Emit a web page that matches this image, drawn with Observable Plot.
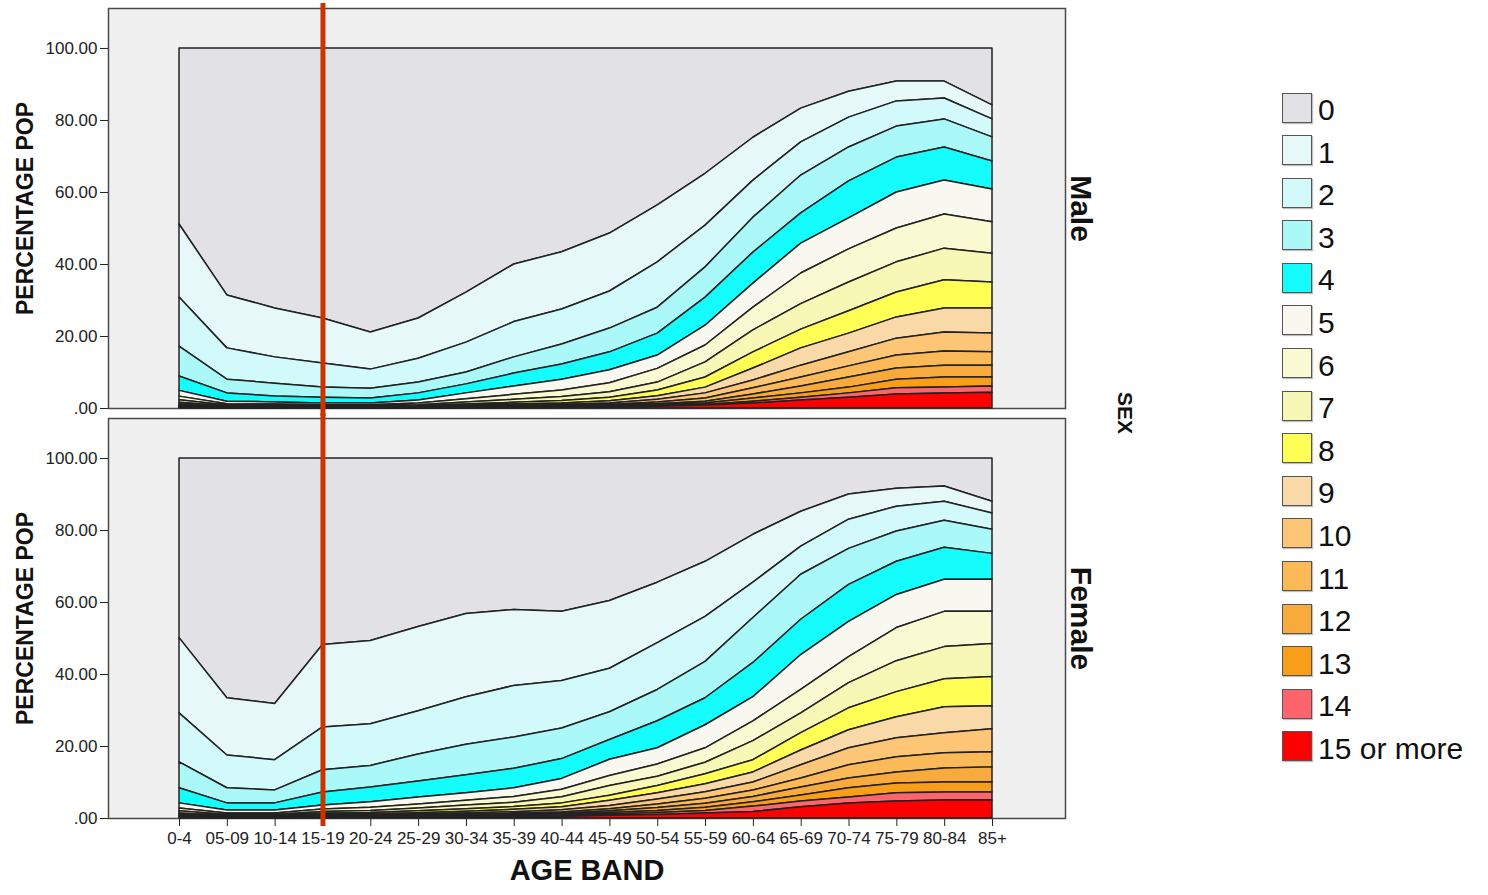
<!DOCTYPE html>
<html>
<head>
<meta charset="utf-8">
<script src="https://cdn.jsdelivr.net/npm/d3@7"></script>
<script src="https://cdn.jsdelivr.net/npm/@observablehq/plot@0.6"></script>
<style>
  body { margin: 0; background: #fff; font-family: "Liberation Sans", Arial, sans-serif; }
  #wrap { position: relative; width: 1488px; height: 895px; overflow: hidden; }
  #chart { position: absolute; left: 0; top: 0; }
  #sex { position: absolute; left: 1125px; top: 413px; transform: translate(-50%, -50%) rotate(90deg);
         font-weight: bold; font-size: 21px; color: #111; white-space: nowrap; }
  #legend { position: absolute; left: 1282px; top: 92px; }
  .row { display: flex; align-items: center; height: 31px; margin-bottom: 11.6px; }
  .sw { width: 28px; height: 28px; border: 1.5px solid #555; box-shadow: 1px 1px 1px rgba(0,0,0,0.25); }
  .lb { font-size: 30px; margin-left: 6px; color: #111; line-height: 31px; position: relative; top: 2px; }
</style>
</head>
<body>
<div id="wrap">
  <div id="chart"></div>
  <div id="sex">SEX</div>
  <div id="legend"></div>
</div>
<script>
// ---- data ----
const ages = ["0-4","05-09","10-14","15-19","20-24","25-29","30-34","35-39","40-44","45-49",
              "50-54","55-59","60-64","65-69","70-74","75-79","80-84","85+"];
const sexes = ["Male", "Female"];
const cats = ["0","1","2","3","4","5","6","7","8","9","10","11","12","13","14","15 or more"];
const catColors = ["#e2e1e6","#e6f8f8","#d2fafa","#aaf8f8","#14fcfc","#f8f8f0","#fafad2","#f7f7b6",
                   "#ffff55","#fad9a8","#fcc676","#fbb958","#f9aa3c","#f99e18","#fe646c","#fe0000"];
const yTicks = [0, 20, 40, 60, 80, 100];
const markerAge = "15-19";

// percentage of population with at least k conditions (k = 1 .. 15), by age band
const maleAtLeast = [
  [51.1, 31.4, 27.8, 25.0, 21.1, 25.0, 32.2, 40.0, 43.4, 48.6, 56.4, 65.2, 75.2, 83.3, 88.0, 90.8, 90.8, 84.2],
  [30.8, 16.7, 14.2, 12.5, 10.8, 13.8, 18.3, 24.0, 27.5, 32.5, 40.6, 50.8, 63.3, 73.9, 80.8, 85.3, 86.1, 80.3],
  [17.2, 8.0, 6.9, 5.8, 5.5, 7.2, 10.0, 14.2, 17.8, 22.2, 28.0, 39.2, 53.0, 64.7, 72.5, 78.3, 80.3, 75.3],
  [8.9, 4.2, 3.3, 3.0, 2.8, 4.2, 6.7, 9.7, 12.2, 15.6, 20.8, 30.8, 43.3, 54.2, 63.1, 69.7, 72.5, 68.6],
  [4.9, 1.9, 1.7, 1.4, 1.4, 2.2, 4.2, 6.1, 8.0, 10.6, 14.7, 23.0, 34.7, 45.8, 52.8, 60.0, 63.3, 60.8],
  [3.3, 1.2, 1.1, 0.9, 0.9, 1.4, 2.6, 3.8, 5.0, 7.0, 11.0, 17.5, 28.0, 37.5, 44.2, 50.0, 53.9, 51.7],
  [2.3, 0.8, 0.75, 0.6, 0.6, 0.9, 1.7, 2.4, 3.2, 4.5, 7.2, 12.8, 21.7, 29.0, 35.0, 40.6, 44.4, 43.0],
  [1.6, 0.55, 0.5, 0.42, 0.42, 0.6, 1.1, 1.6, 2.1, 3.0, 5.0, 8.6, 15.6, 21.9, 27.0, 32.2, 35.6, 35.0],
  [1.1, 0.4, 0.35, 0.3, 0.3, 0.45, 0.8, 1.1, 1.4, 2.0, 3.4, 5.8, 11.1, 16.7, 20.8, 25.3, 27.8, 27.8],
  [0.8, 0.28, 0.25, 0.22, 0.22, 0.3, 0.55, 0.8, 1.0, 1.4, 2.4, 4.2, 7.8, 11.9, 15.6, 19.4, 21.1, 20.8],
  [0.55, 0.2, 0.18, 0.16, 0.16, 0.22, 0.4, 0.55, 0.7, 1.0, 1.7, 2.8, 5.6, 8.6, 11.7, 14.7, 15.8, 15.6],
  [0.4, 0.15, 0.13, 0.12, 0.12, 0.16, 0.3, 0.4, 0.5, 0.7, 1.2, 1.9, 3.9, 6.1, 8.6, 11.1, 11.9, 11.9],
  [0.3, 0.1, 0.1, 0.09, 0.09, 0.12, 0.2, 0.3, 0.35, 0.5, 0.9, 1.4, 2.8, 4.2, 5.8, 8.0, 8.6, 8.6],
  [0.2, 0.08, 0.07, 0.06, 0.06, 0.08, 0.15, 0.2, 0.25, 0.35, 0.6, 1.0, 1.9, 3.0, 4.2, 5.6, 5.8, 6.1],
  [0.14, 0.05, 0.05, 0.04, 0.04, 0.06, 0.1, 0.15, 0.2, 0.3, 0.5, 0.8, 1.4, 2.2, 3.0, 3.9, 4.2, 4.4]
];
const femaleAtLeast = [
  [50.1, 33.4, 31.8, 48.2, 49.3, 53.2, 56.8, 57.9, 57.4, 60.4, 65.5, 71.3, 78.8, 85.2, 90.0, 91.6, 92.2, 88.0],
  [29.2, 17.5, 16.2, 25.3, 26.2, 29.8, 33.7, 36.8, 38.2, 41.6, 48.7, 56.0, 65.5, 75.5, 83.0, 86.6, 88.0, 84.7],
  [15.6, 8.4, 7.8, 13.4, 14.6, 17.8, 20.5, 22.5, 25.0, 29.5, 35.7, 43.5, 55.7, 67.7, 74.9, 79.7, 82.7, 80.2],
  [8.4, 4.2, 4.2, 7.2, 8.6, 10.3, 12.0, 13.8, 16.5, 21.8, 27.0, 33.4, 43.2, 55.2, 64.9, 71.3, 75.2, 73.5],
  [4.2, 2.2, 2.2, 3.6, 4.5, 5.8, 7.0, 8.4, 11.0, 16.3, 19.5, 25.9, 33.7, 45.4, 54.6, 62.1, 66.3, 66.3],
  [2.8, 1.4, 1.4, 2.5, 3.0, 3.9, 4.9, 6.0, 8.0, 11.8, 15.0, 19.5, 27.0, 35.7, 44.8, 52.9, 57.4, 57.4],
  [2.0, 1.0, 1.0, 1.8, 2.1, 2.8, 3.6, 4.4, 5.9, 9.0, 11.6, 15.5, 21.5, 29.2, 37.6, 43.7, 47.6, 48.5],
  [1.4, 0.7, 0.7, 1.3, 1.5, 2.0, 2.6, 3.2, 4.2, 6.3, 9.0, 12.3, 16.2, 23.7, 30.6, 35.1, 38.7, 39.3],
  [1.0, 0.5, 0.5, 0.9, 1.1, 1.45, 1.9, 2.4, 3.1, 4.9, 7.0, 9.5, 12.8, 18.9, 24.5, 28.1, 30.9, 31.2],
  [0.7, 0.35, 0.35, 0.65, 0.8, 1.05, 1.4, 1.75, 2.3, 3.5, 5.3, 7.3, 10.0, 14.8, 19.5, 22.3, 23.7, 24.8],
  [0.5, 0.25, 0.25, 0.45, 0.58, 0.75, 1.0, 1.3, 1.7, 2.6, 3.9, 5.5, 7.8, 11.1, 14.8, 17.0, 18.1, 18.4],
  [0.36, 0.18, 0.18, 0.33, 0.42, 0.55, 0.72, 0.95, 1.25, 2.0, 2.9, 4.1, 6.0, 8.6, 11.1, 12.8, 13.9, 14.2],
  [0.26, 0.13, 0.13, 0.24, 0.3, 0.4, 0.52, 0.7, 0.9, 1.5, 2.1, 3.0, 4.5, 6.4, 8.4, 9.7, 10.0, 10.0],
  [0.18, 0.09, 0.09, 0.17, 0.21, 0.28, 0.37, 0.5, 0.65, 1.1, 1.5, 2.1, 3.3, 4.7, 5.8, 7.0, 7.2, 7.2],
  [0.12, 0.06, 0.06, 0.11, 0.14, 0.19, 0.25, 0.34, 0.45, 0.75, 1.0, 1.4, 1.8, 3.1, 4.2, 4.7, 5.0, 5.0]
];

// ---- build band rows (each category spans from the next "at least" level to its own) ----
function bands(sex, cum) {
  const out = [];
  cats.forEach((c, k) => {
    ages.forEach((a, i) => {
      const hi = k === 0 ? 100 : cum[k - 1][i];
      const lo = k === cats.length - 1 ? 0 : cum[k][i];
      out.push({sex, age: a, cat: c, lo, hi});
    });
  });
  return out;
}
const rows = [...bands("Male", maleAtLeast), ...bands("Female", femaleAtLeast)];

const chart = Plot.plot({
  width: 1160,
  height: 895,
  marginLeft: 108,
  marginRight: 95,
  marginTop: 8,
  marginBottom: 77,
  style: {fontFamily: "'Liberation Sans', Arial, sans-serif", fontSize: "17px", color: "#222", background: "transparent"},
  x: {type: "point", domain: ages, insetLeft: 71, insetRight: 73, padding: 0, round: false, label: null, tickSize: 8, tickPadding: 5},
  y: {domain: [0, 111.1], ticks: yTicks, tickFormat: d => d === 0 ? ".00" : d.toFixed(2), tickSize: 8, tickPadding: 3, label: null},
  fy: {domain: sexes, padding: 10 / 410, round: false, axis: null, label: null},
  color: {domain: cats, range: catColors},
  marks: [
    Plot.frame({fill: "#f0f0f0", stroke: "#4a4a4a", strokeWidth: 1.5}),
    Plot.areaY(rows, {x: "age", y1: "lo", y2: "hi", z: "cat", fill: "cat", fy: "sex",
                      stroke: "#222", strokeWidth: 1.5, strokeLinejoin: "round"}),
    Plot.ruleX([markerAge], {stroke: "#cc3300", strokeWidth: 5, insetTop: -5, insetBottom: -8}),
    Plot.text(["PERCENTAGE POP"], {frameAnchor: "left", textAnchor: "middle", rotate: -90, dx: -83, fontSize: 23, fontWeight: "bold", fill: "#111"}),
    Plot.text(sexes, {fy: d => d, text: d => d, frameAnchor: "right", textAnchor: "middle", rotate: 90, dx: 15, fontSize: 30, fontWeight: "bold", fill: "#111"}),
    Plot.text([{sex: "Female"}], {fy: "sex", text: () => "AGE BAND", frameAnchor: "bottom", dy: 61, fontSize: 29, fontWeight: "bold", fill: "#111"})
  ]
});
document.getElementById("chart").appendChild(chart);

// ---- legend ----
const legend = d3.select("#legend");
cats.forEach((c, i) => {
  const row = legend.append("div").attr("class", "row");
  row.append("div").attr("class", "sw").style("background", catColors[i]);
  row.append("div").attr("class", "lb").text(c);
});
</script>
</body>
</html>
